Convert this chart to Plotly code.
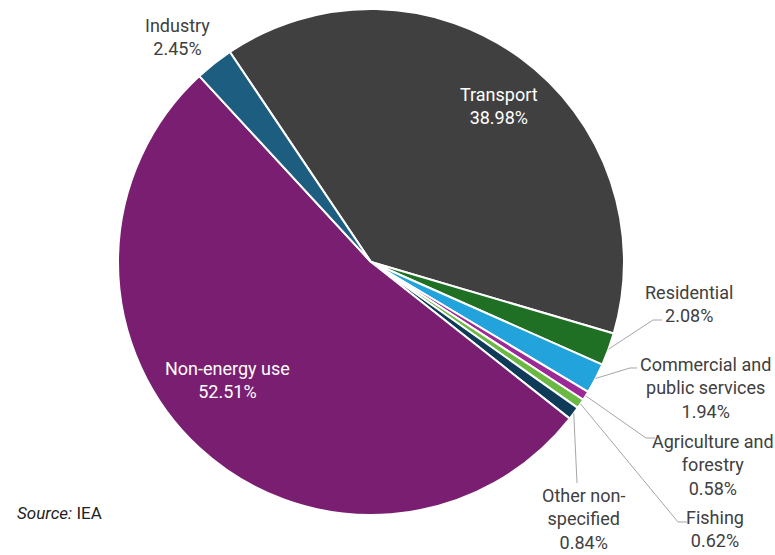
import math
import plotly.graph_objects as go

# ---- data ----
sectors = ["Transport", "Residential", "Commercial and public services",
           "Agriculture and forestry", "Fishing", "Other non-specified",
           "Non-energy use", "Industry"]
display_names = ["Transport", "Residential", "Commercial and<br>public services",
                 "Agriculture and<br>forestry", "Fishing", "Other non-<br>specified",
                 "Non-energy use", "Industry"]
shares = [38.98, 2.08, 1.94, 0.58, 0.62, 0.84, 52.51, 2.45]
colors = ["#404040", "#1f6f25", "#22a3dc", "#9c2a96", "#6cb844", "#0e3b57",
          "#7a1e72", "#1d5e80"]

# ---- layout config (pixels) ----
W, H = 775, 555
CX, CY, R = 371, 262, 253
ROT = -33.9  # start angle of first slice, degrees clockwise from 12 o'clock

# label block centres, text colour, and optional leader elbow/end points
label_cfg = {
    "Transport": dict(pos=(499, 106), color="white", leader=None),
    "Residential": dict(pos=(689, 304), color="#404040", leader=[(653, 320), (662, 320)]),
    "Commercial and public services": dict(pos=(705, 388), color="#404040", leader=[(630, 368), (637, 368)]),
    "Agriculture and forestry": dict(pos=(713, 465), color="#404040", leader=[(646, 438), (655, 438)]),
    "Fishing": dict(pos=(715, 529), color="#404040", leader=[(678, 522), (687, 522)]),
    "Other non-specified": dict(pos=(583, 519), color="#404040", leader=[(577, 483)]),
    "Non-energy use": dict(pos=(227, 380), color="white", leader=None),
    "Industry": dict(pos=(177, 37), color="#404040", leader=None),
}

FONT = "Roboto, Arial, sans-serif"
FS = 18


def px2paper(x, y):
    return x / W, 1 - y / H


fig = go.Figure(go.Pie(
    labels=sectors, values=shares, sort=False, direction="clockwise",
    rotation=ROT,
    marker=dict(colors=colors, line=dict(color="white", width=2)),
    textinfo="none", hoverinfo="label+percent",
    domain=dict(x=[(CX - R) / W, (CX + R) / W],
                y=[1 - (CY + R) / H, 1 - (CY - R) / H]),
    showlegend=False,
))

total = sum(shares)
annotations = []
shapes = []
cum = ROT
for name, disp, v in zip(sectors, display_names, shares):
    span = v / total * 360
    mid = math.radians(cum + span / 2)
    cum += span
    cfg = label_cfg[name]
    x, y = px2paper(*cfg["pos"])
    annotations.append(dict(
        x=x, y=y, xref="paper", yref="paper", xanchor="center", yanchor="middle",
        text=f"{disp}<br>{v:.2f}%", showarrow=False, align="center",
        font=dict(family=FONT, size=FS, color=cfg["color"]),
    ))
    if cfg["leader"]:
        sx = CX + R * math.sin(mid)
        sy = CY - R * math.cos(mid)
        pts = [(sx, sy)] + cfg["leader"]
        path = ""
        for i, (px_, py_) in enumerate(pts):
            qx, qy = px2paper(px_, py_)
            path += ("M" if i == 0 else " L") + f"{qx:.5f},{qy:.5f}"
        shapes.append(dict(type="path", path=path, xref="paper", yref="paper",
                           line=dict(color="#a6a6a6", width=1)))

sx, sy = px2paper(15, 513)
annotations.append(dict(
    x=sx, y=sy, xref="paper", yref="paper", xanchor="left", yanchor="middle",
    text="<i>Source:</i> IEA", showarrow=False,
    font=dict(family=FONT, size=17, color="#222222"),
))

fig.update_layout(
    width=W, height=H, margin=dict(l=0, r=0, t=0, b=0),
    paper_bgcolor="white", plot_bgcolor="white",
    annotations=annotations, shapes=shapes,
)

fig.write_html("out.html")
